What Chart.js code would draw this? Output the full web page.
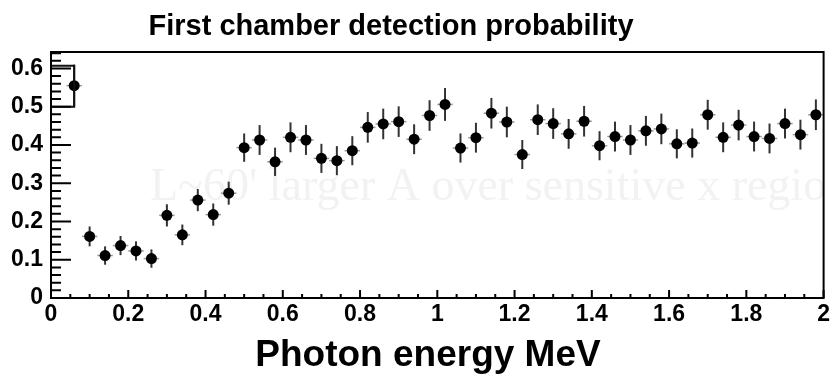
<!DOCTYPE html>
<html>
<head>
<meta charset="utf-8">
<script src="https://cdn.jsdelivr.net/npm/chart.js@4.4.1/dist/chart.umd.min.js"></script>
<style>
  body { margin: 0; background: #fff; }
  canvas { display: block; }
</style>
</head>
<body>
<canvas id="chart" width="833" height="376"></canvas>
<script>
// photon energy bin centres (MeV)
const energy = [0.06, 0.10, 0.14, 0.18, 0.22, 0.26, 0.30, 0.34, 0.38, 0.42, 0.46, 0.50, 0.54, 0.58, 0.62,
  0.66, 0.70, 0.74, 0.78, 0.82, 0.86, 0.90, 0.94, 0.98, 1.02, 1.06, 1.10, 1.14, 1.18, 1.22, 1.26, 1.30, 1.34,
  1.38, 1.42, 1.46, 1.50, 1.54, 1.58, 1.62, 1.66, 1.70, 1.74, 1.78, 1.82, 1.86, 1.90, 1.94, 1.98];
// detection probability
const prob = [0.555, 0.161, 0.111, 0.137, 0.123, 0.103, 0.216, 0.165, 0.256, 0.218, 0.274, 0.393, 0.413, 0.356, 0.420,
  0.413, 0.365, 0.359, 0.385, 0.446, 0.455, 0.461, 0.415, 0.477, 0.506, 0.392, 0.419, 0.483, 0.460, 0.375, 0.466, 0.456, 0.429,
  0.462, 0.398, 0.422, 0.413, 0.437, 0.442, 0.403, 0.405, 0.479, 0.420, 0.452, 0.422, 0.417, 0.456, 0.427, 0.479];
// vertical errors
const probErr = [0.055, 0.026, 0.024, 0.025, 0.025, 0.024, 0.029, 0.027, 0.029, 0.029, 0.030, 0.037, 0.039, 0.037, 0.039,
  0.039, 0.038, 0.038, 0.038, 0.040, 0.040, 0.040, 0.039, 0.040, 0.043, 0.038, 0.039, 0.040, 0.040, 0.038, 0.040, 0.040, 0.039,
  0.040, 0.038, 0.039, 0.039, 0.039, 0.040, 0.038, 0.038, 0.039, 0.039, 0.040, 0.039, 0.039, 0.039, 0.039, 0.040];
const binHalfWidth = 0.02;
// step drawn at the left edge around the first bin
const stepX = [0, 0.06, 0.06, 0];
const stepY = [0.607, 0.607, 0.5, 0.5];

const xTicks = [0, 0.2, 0.4, 0.6, 0.8, 1, 1.2, 1.4, 1.6, 1.8, 2];
const yTicks = [0, 0.1, 0.2, 0.3, 0.4, 0.5, 0.6];

const titleText = 'First chamber detection probability';
const xTitleText = 'Photon energy MeV';
const ghostText = "L~60' larger A over sensitive x region";

const points = energy.map((e, i) => ({ x: e, y: prob[i] }));
const step = stepX.map((v, i) => ({ x: v, y: stepY[i] }));

const rootStyle = {
  id: 'rootStyle',
  beforeDatasetsDraw(chart) {
    const { ctx, chartArea: a, scales: { x, y } } = chart;
    ctx.save();
    // faint bleed-through text
    ctx.beginPath();
    ctx.rect(a.left, a.top, a.right - a.left, a.bottom - a.top);
    ctx.clip();
    ctx.fillStyle = '#f2f2f2';
    ctx.font = '46px "Liberation Serif"';
    ctx.textBaseline = 'alphabetic';
    ctx.fillText(ghostText, 150, 200);
    ctx.restore();

    // error bars
    ctx.save();
    energy.forEach((e, i) => {
      const px = x.getPixelForValue(e);
      const py = y.getPixelForValue(prob[i]);
      ctx.strokeStyle = '#999';
      ctx.lineWidth = 1.5;
      ctx.beginPath();
      ctx.moveTo(x.getPixelForValue(e - binHalfWidth), py);
      ctx.lineTo(x.getPixelForValue(e + binHalfWidth), py);
      ctx.stroke();
      ctx.strokeStyle = '#333';
      ctx.lineWidth = 2;
      ctx.beginPath();
      ctx.moveTo(px, y.getPixelForValue(prob[i] + probErr[i]));
      ctx.lineTo(px, y.getPixelForValue(prob[i] - probErr[i]));
      ctx.stroke();
    });
    ctx.restore();
  },
  afterDraw(chart) {
    const { ctx, chartArea: a, scales: { x, y } } = chart;
    ctx.save();
    ctx.strokeStyle = '#000';
    ctx.lineWidth = 2;
    ctx.strokeRect(a.left, a.top, a.right - a.left, a.bottom - a.top);

    // inside ticks, ROOT style
    ctx.beginPath();
    for (let k = 0; k <= 32; k++) {
      const py = y.getPixelForValue(k * 0.02);
      const len = k % 5 === 0 ? 20 : 10;
      ctx.moveTo(a.left, py);
      ctx.lineTo(a.left + len, py);
    }
    for (let k = 0; k <= 40; k++) {
      const px = x.getPixelForValue(k * 0.05);
      const len = k % 4 === 0 ? 8 : 4;
      ctx.moveTo(px, a.bottom);
      ctx.lineTo(px, a.bottom - len);
    }
    ctx.stroke();

    ctx.fillStyle = '#000';
    ctx.textAlign = 'center';
    ctx.textBaseline = 'alphabetic';
    ctx.font = 'bold 29px "Liberation Sans"';
    ctx.fillText(titleText, 391, 35);
    ctx.font = 'bold 37px "Liberation Sans"';
    ctx.fillText(xTitleText, 428, 366);
    ctx.restore();
  }
};

const tickFont = { family: 'Liberation Sans', weight: 'bold', size: 23 };

new Chart(document.getElementById('chart'), {
  type: 'scatter',
  data: {
    datasets: [
      {
        label: 'step',
        data: step,
        showLine: true,
        borderColor: '#111',
        borderWidth: 2,
        pointRadius: 0,
        fill: false
      },
      {
        label: 'probability',
        data: points,
        backgroundColor: '#000',
        borderColor: '#000',
        borderWidth: 0,
        pointRadius: 5.5
      }
    ]
  },
  options: {
    responsive: false,
    animation: false,
    layout: { padding: { top: 52, right: 4, left: 0, bottom: 0 } },
    plugins: {
      legend: { display: false },
      tooltip: { enabled: false },
      title: { display: false }
    },
    scales: {
      x: {
        type: 'linear',
        min: 0,
        max: 2,
        afterFit(s) { s.height = 78; },
        afterBuildTicks(s) { s.ticks = xTicks.map(v => ({ value: v })); },
        grid: { display: false, drawTicks: false },
        border: { display: false },
        ticks: {
          autoSkip: false,
          maxRotation: 0,
          padding: 3,
          color: '#000',
          font: tickFont,
          callback: v => String(+v.toFixed(1))
        }
      },
      y: {
        min: 0,
        max: 0.643,
        afterFit(s) { s.width = 51; },
        afterBuildTicks(s) { s.ticks = yTicks.map(v => ({ value: v })); },
        grid: { display: false, drawTicks: false },
        border: { display: false },
        ticks: {
          padding: 8,
          color: '#000',
          font: tickFont,
          callback: v => String(+v.toFixed(1))
        }
      }
    }
  },
  plugins: [rootStyle]
});
</script>
</body>
</html>
